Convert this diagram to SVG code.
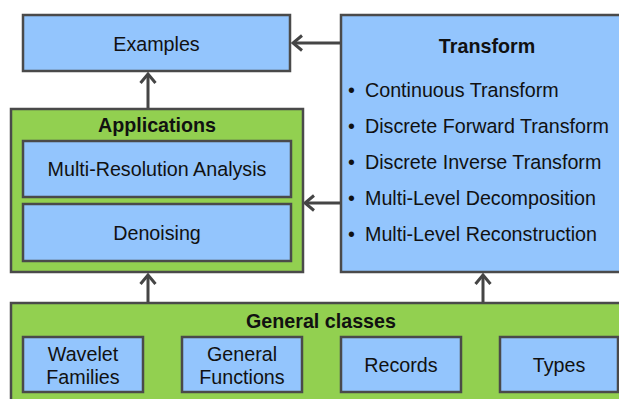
<svg xmlns="http://www.w3.org/2000/svg" width="619" height="399" viewBox="0 0 619 399">
<defs>
<style>
.blue{fill:#93c5fd;stroke:#4a4a4a;stroke-width:2.5}
.green{fill:#92d050;stroke:#4a4a4a;stroke-width:2.5}
text{font-family:"Liberation Sans",Arial,sans-serif;font-size:19.7px;fill:#111}
.c{text-anchor:middle}
.b{font-weight:bold}
.conn{stroke:#454545;stroke-width:3;fill:none}
</style>
<marker id="arr" viewBox="-12 -10 14 20" refX="0" refY="0" markerWidth="14" markerHeight="20" markerUnits="userSpaceOnUse" orient="auto">
<path d="M -9 -7.5 L 0 0 L -9 7.5" fill="none" stroke="#454545" stroke-width="3"/>
</marker>
</defs>
<rect width="619" height="399" fill="#fff"/>
<g id="connectors">
<line class="conn" x1="341" y1="43" x2="293" y2="43" marker-end="url(#arr)"/>
<line class="conn" x1="148" y1="109" x2="148" y2="74" marker-end="url(#arr)"/>
<line class="conn" x1="341" y1="203" x2="305" y2="203" marker-end="url(#arr)"/>
<line class="conn" x1="148" y1="303" x2="148" y2="275" marker-end="url(#arr)"/>
<line class="conn" x1="483" y1="303" x2="483" y2="275" marker-end="url(#arr)"/>
</g>
<g id="examples">
<rect class="blue" x="23" y="15" width="267" height="56"/>
<text class="c" x="156.5" y="50.5">Examples</text>
</g>
<g id="transform">
<rect class="blue" x="341" y="15" width="292" height="257"/>
<text class="c b" x="487" y="53">Transform</text>
<text x="348" y="97">•</text><text x="365" y="97">Continuous Transform</text>
<text x="348" y="133">•</text><text x="365" y="133">Discrete Forward Transform</text>
<text x="348" y="169">•</text><text x="365" y="169">Discrete Inverse Transform</text>
<text x="348" y="205">•</text><text x="365" y="205">Multi-Level Decomposition</text>
<text x="348" y="241">•</text><text x="365" y="241">Multi-Level Reconstruction</text>
</g>
<g id="applications">
<rect class="green" x="11" y="109" width="292" height="163"/>
<text class="c b" x="157" y="131.5">Applications</text>
</g>
<g id="mra">
<rect class="blue" x="23" y="141" width="268" height="56"/>
<text class="c" x="157" y="176">Multi-Resolution Analysis</text>
</g>
<g id="denoising">
<rect class="blue" x="23" y="204" width="268" height="57"/>
<text class="c" x="157" y="239.5">Denoising</text>
</g>
<g id="general-classes">
<rect class="green" x="11" y="303" width="620" height="110"/>
<text class="c b" x="321" y="327.5">General classes</text>
</g>
<g id="wavelet-families">
<rect class="blue" x="23" y="337" width="120" height="55"/>
<text class="c" x="83" y="360.5">Wavelet</text>
<text class="c" x="83" y="384">Families</text>
</g>
<g id="general-functions">
<rect class="blue" x="182" y="337" width="120" height="55"/>
<text class="c" x="242" y="360.5">General</text>
<text class="c" x="242" y="384">Functions</text>
</g>
<g id="records">
<rect class="blue" x="341" y="337" width="120" height="55"/>
<text class="c" x="401" y="372">Records</text>
</g>
<g id="types">
<rect class="blue" x="500" y="337" width="118" height="55"/>
<text class="c" x="559" y="372">Types</text>
</g>
</svg>
